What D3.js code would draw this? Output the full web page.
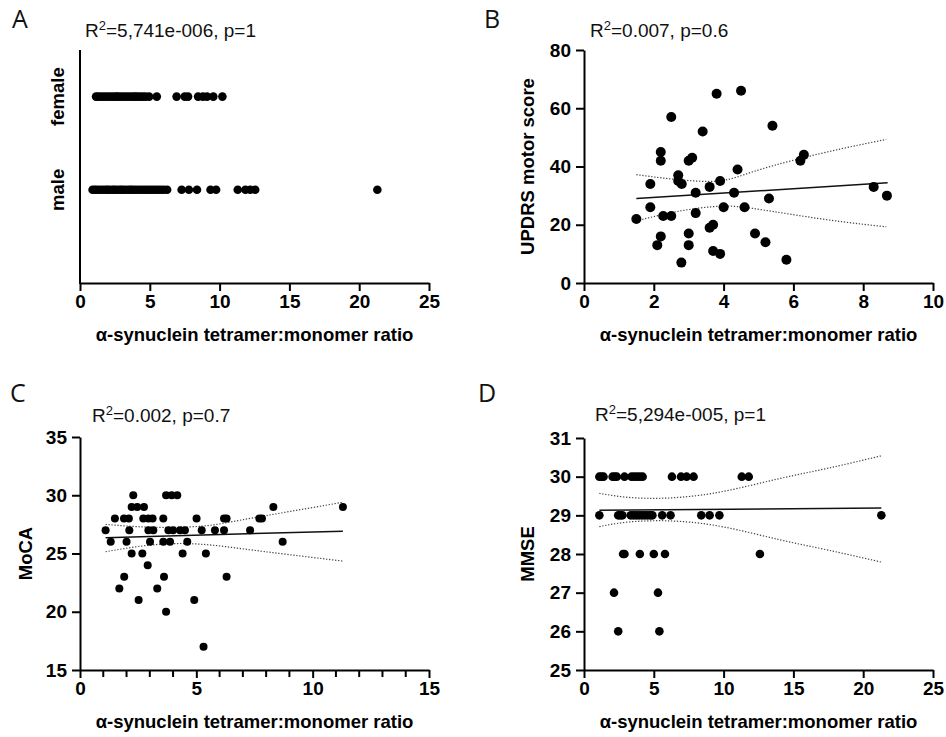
<!DOCTYPE html>
<html>
<head>
<meta charset="utf-8">
<script src="https://cdn.jsdelivr.net/npm/d3@7"></script>
<style>
  body { margin: 0; background: #fff; }
</style>
</head>
<body>
<svg id="chart" width="946" height="737" font-family="Liberation Sans, Arial, sans-serif"></svg>
<script>
// Panel A: sex vs ratio
const femaleRatio = [1.15, 1.3, 1.5, 1.7, 1.9, 2.1, 2.3, 2.5, 2.65, 2.8, 3.0, 3.2, 3.4, 3.6, 3.8, 3.95, 4.1, 4.3, 4.5, 4.7, 4.95, 5.5,
    6.92, 7.5, 7.74, 8.46, 8.8, 9.1, 9.55, 10.2];
const maleRatio = [0.9, 1.05, 1.2, 1.4, 1.6, 1.8, 1.95, 2.1, 2.3, 2.45, 2.6, 2.8, 2.95, 3.1, 3.3, 3.5, 3.65, 3.8, 4.0, 4.2,
    4.4, 4.6, 4.8, 5.0, 5.2, 5.4, 5.6, 5.8, 6.0, 6.24, 7.28, 7.8, 8.38, 9.35, 9.75, 11.3, 11.85, 12.2, 12.55, 21.3];
const sexCategories = ['male', 'female'];

// Panel B: UPDRS motor score
const updrsRatio = [1.5, 1.9, 1.9, 2.2, 2.2, 2.2, 2.1, 2.27, 2.5, 2.5, 2.7, 2.7, 2.8, 2.79, 3.0, 3.0, 3.0, 3.1, 3.2, 3.2, 3.4,
    3.6, 3.6, 3.7, 3.7, 3.8, 3.9, 3.9, 4.0, 4.3, 4.4, 4.5, 4.6, 4.9, 5.2, 5.3, 5.4, 5.8, 6.2, 6.3, 8.3, 8.68];
const updrsScore = [22, 34, 26, 45, 42, 16, 13, 23, 23, 57, 37, 35, 34, 7, 17, 13, 42, 43, 31, 24, 52,
    33, 19, 20, 11, 65, 35, 10, 26, 31, 39, 66, 26, 17, 14, 29, 54, 8, 42, 44, 33, 30];
const updrsFitX = [1.5, 8.7];
const updrsFitY = [29.0, 34.4];
const updrsCiX = [1.5, 2.36, 3.22, 4.03, 4.84, 6.08, 7.42, 8.66];
const updrsCiUpper = [37.2, 35.9, 35.0, 35.3, 38.2, 42.4, 46.2, 49.3];
const updrsCiLower = [21.3, 23.8, 25.6, 26.4, 25.6, 23.3, 21.0, 19.3];

// Panel C: MoCA
const mocaRatio = [2.29, 3.70, 3.94, 4.18,
    2.22, 2.46, 2.75, 8.31, 11.3,
    1.50, 1.89, 2.10, 2.72, 2.94, 3.12, 3.58, 5.01, 6.19, 6.30, 7.71, 7.82,
    1.10, 2.12, 2.94, 3.15, 3.80, 4.00, 4.30, 4.51, 5.23, 5.80, 6.19, 7.31,
    1.32, 2.00, 3.01, 3.58, 3.87, 4.61, 8.71,
    2.22, 2.68, 4.41, 5.41,
    2.91,
    1.90, 3.61, 6.30,
    1.69, 3.32,
    2.52, 4.91,
    3.70,
    5.31];
const mocaScore = [30, 30, 30, 30,
    29, 29, 29, 29, 29,
    28, 28, 28, 28, 28, 28, 28, 28, 28, 28, 28, 28,
    27, 27, 27, 27, 27, 27, 27, 27, 27, 27, 27, 27,
    26, 26, 26, 26, 26, 26, 26,
    25, 25, 25, 25,
    24,
    23, 23, 23,
    22, 22,
    21, 21,
    20,
    17];
const mocaFitX = [1.1, 11.3];
const mocaFitY = [26.35, 26.92];
const mocaCiX = [1.1, 2.5, 4, 5.5, 7, 9, 11.3];
const mocaCiUpper = [27.5, 27.3, 27.25, 27.4, 27.9, 28.6, 29.4];
const mocaCiLower = [25.15, 25.6, 25.85, 25.75, 25.4, 24.9, 24.35];

// Panel D: MMSE
const mmseRatio = [1.1, 1.25, 1.4, 2.05, 2.2, 2.35, 2.9, 3.4, 3.6, 3.8, 4.0, 4.2, 6.3, 6.95, 7.35, 7.85, 11.3, 11.8,
    1.1, 2.45, 2.6, 2.75, 3.35, 3.55, 3.75, 3.95, 4.15, 4.35, 4.55, 4.75, 4.9, 5.6, 6.2, 8.4, 9.0, 9.7, 21.3,
    2.8, 2.9, 4.0, 5.0, 5.8, 12.6,
    2.15, 5.3,
    2.45, 5.4];
const mmseScore = [30, 30, 30, 30, 30, 30, 30, 30, 30, 30, 30, 30, 30, 30, 30, 30, 30, 30,
    29, 29, 29, 29, 29, 29, 29, 29, 29, 29, 29, 29, 29, 29, 29, 29, 29, 29, 29,
    28, 28, 28, 28, 28, 28,
    27, 27,
    26, 26];
const mmseFitX = [1.1, 21.3];
const mmseFitY = [29.13, 29.19];
const mmseCiX = [1.1, 3, 5, 7, 10, 14, 17.5, 21.3];
const mmseCiUpper = [29.57, 29.47, 29.44, 29.47, 29.62, 29.95, 30.22, 30.54];
const mmseCiLower = [28.71, 28.82, 28.86, 28.84, 28.70, 28.37, 28.10, 27.79];

const xLabel = 'α-synuclein tetramer:monomer ratio';
const FONT = '"Liberation Sans", Arial, sans-serif';

const svg = d3.select('#chart');

function styleAxis(g) {
    g.attr('font-family', null).attr('font-size', null);
    g.select('.domain').attr('stroke', '#000').attr('stroke-width', 2);
    g.selectAll('.tick line').attr('stroke', '#000').attr('stroke-width', 2);
    g.selectAll('.tick text')
        .attr('font-family', FONT)
        .attr('font-weight', 'bold')
        .attr('font-size', 19)
        .attr('fill', '#000');
}

function addTitle(x, y, r2text) {
    const t = svg.append('text')
        .attr('x', x)
        .attr('y', y)
        .attr('font-family', FONT)
        .attr('font-size', 19)
        .attr('fill', '#111');
    t.append('tspan').text('R');
    t.append('tspan').attr('dy', -7).attr('font-size', 13).text('2');
    t.append('tspan').attr('dy', 7).text(r2text);
}

function addLetter(x, y, letter) {
    svg.append('text')
        .attr('x', x)
        .attr('y', y)
        .attr('font-family', '"Open Sans", sans-serif')
        .attr('font-size', 25)
        .attr('fill', '#111')
        .text(letter);
}

function drawPanel(p) {
    const xScale = d3.scaleLinear().domain(p.xDomain).range([p.left, p.right]);
    const yScale = d3.scaleLinear().domain(p.yDomain).range([p.bottom, p.top]);

    // x axis
    const xAxis = d3.axisBottom(xScale)
        .tickValues(d3.range(p.xDomain[0], p.xDomain[1] + 0.001, p.xStep))
        .tickFormat(d3.format('d'))
        .tickSize(8).tickSizeOuter(0).tickPadding(4);
    const gx = svg.append('g')
        .attr('transform', `translate(0, ${p.bottom})`)
        .call(xAxis)
        .call(styleAxis);

    if (p.xMinor) {
        // minor ticks every unit
        gx.selectAll('.minor')
            .data(d3.range(p.xDomain[0], p.xDomain[1] + 0.001, p.xMinor).filter(v => v % p.xStep !== 0))
            .join('line')
            .attr('class', 'minor')
            .attr('x1', d => xScale(d)).attr('x2', d => xScale(d))
            .attr('y1', 0).attr('y2', 7)
            .attr('stroke', '#000').attr('stroke-width', 2);
    }

    // y axis
    if (p.yCategories) {
        svg.append('line')
            .attr('x1', p.left).attr('x2', p.left)
            .attr('y1', p.top).attr('y2', p.bottom + 1)
            .attr('stroke', '#000').attr('stroke-width', 2);
        svg.selectAll(null)
            .data(p.yCategories)
            .join('text')
            .attr('transform', (d, i) => `translate(${p.left - 16}, ${yScale(i + 1)}) rotate(-90)`)
            .attr('text-anchor', 'middle')
            .attr('font-family', FONT)
            .attr('font-weight', 'bold')
            .attr('font-size', 18.5)
            .text(d => d);
    } else {
        const yAxis = d3.axisLeft(yScale)
            .tickValues(d3.range(p.yDomain[0], p.yDomain[1] + 0.001, p.yStep))
            .tickFormat(d3.format('d'))
            .tickSize(8).tickSizeOuter(0).tickPadding(5);
        svg.append('g')
            .attr('transform', `translate(${p.left}, 0)`)
            .call(yAxis)
            .call(styleAxis);

        svg.append('text')
            .attr('transform', `translate(${p.yLabelX}, ${(p.top + p.bottom) / 2}) rotate(-90)`)
            .attr('text-anchor', 'middle')
            .attr('font-family', FONT)
            .attr('font-weight', 'bold')
            .attr('font-size', 18.5)
            .text(p.yLabel);
    }

    svg.append('text')
        .attr('x', (p.left + p.right) / 2)
        .attr('y', p.bottom + 58)
        .attr('text-anchor', 'middle')
        .attr('font-family', FONT)
        .attr('font-weight', 'bold')
        .attr('font-size', 18.5)
        .text(xLabel);

    // confidence band (dotted) and fit line
    if (p.ciX) {
        const curve = d3.line()
            .x(d => xScale(d[0]))
            .y(d => yScale(d[1]))
            .curve(d3.curveNatural);
        [p.ciUpper, p.ciLower].forEach(arr => {
            svg.append('path')
                .datum(p.ciX.map((x, i) => [x, arr[i]]))
                .attr('d', curve)
                .attr('fill', 'none')
                .attr('stroke', '#444')
                .attr('stroke-width', 1.2)
                .attr('stroke-dasharray', '1.3,1.7');
        });
        svg.append('path')
            .datum(p.fitX.map((x, i) => [x, p.fitY[i]]))
            .attr('d', d3.line().x(d => xScale(d[0])).y(d => yScale(d[1])))
            .attr('fill', 'none')
            .attr('stroke', '#111')
            .attr('stroke-width', 1.5);
    }

    svg.append('g')
        .selectAll('circle')
        .data(p.xs.map((x, i) => [x, p.ys[i]]))
        .join('circle')
        .attr('cx', d => xScale(d[0]))
        .attr('cy', d => yScale(d[1]))
        .attr('r', p.r)
        .attr('fill', '#000');
}

// A
drawPanel({
    left: 80, right: 429, top: 50, bottom: 283,
    xDomain: [0, 25], xStep: 5,
    yDomain: [0, 2.5], yCategories: sexCategories,
    xs: maleRatio.concat(femaleRatio),
    ys: maleRatio.map(() => 1).concat(femaleRatio.map(() => 2)),
    r: 4.3
});
addTitle(85, 37, '=5,741e-006, p=1');
addLetter(12, 28, 'A');

// B
drawPanel({
    left: 584, right: 933, top: 50, bottom: 283,
    xDomain: [0, 10], xStep: 2,
    yDomain: [0, 80], yStep: 20,
    yLabel: 'UPDRS motor score', yLabelX: 534,
    xs: updrsRatio, ys: updrsScore, r: 5,
    fitX: updrsFitX, fitY: updrsFitY,
    ciX: updrsCiX, ciUpper: updrsCiUpper, ciLower: updrsCiLower
});
addTitle(590, 37, '=0.007, p=0.6');
addLetter(484, 28, 'B');

// C
drawPanel({
    left: 80, right: 429, top: 437, bottom: 670,
    xDomain: [0, 15], xStep: 5, xMinor: 1,
    yDomain: [15, 35], yStep: 5,
    yLabel: 'MoCA', yLabelX: 32,
    xs: mocaRatio, ys: mocaScore, r: 4,
    fitX: mocaFitX, fitY: mocaFitY,
    ciX: mocaCiX, ciUpper: mocaCiUpper, ciLower: mocaCiLower
});
addTitle(92, 422, '=0.002, p=0.7');
addLetter(10, 402, 'C');

// D
drawPanel({
    left: 584, right: 933, top: 438, bottom: 670,
    xDomain: [0, 25], xStep: 5,
    yDomain: [25, 31], yStep: 1,
    yLabel: 'MMSE', yLabelX: 534,
    xs: mmseRatio, ys: mmseScore, r: 4.3,
    fitX: mmseFitX, fitY: mmseFitY,
    ciX: mmseCiX, ciUpper: mmseCiUpper, ciLower: mmseCiLower
});
addTitle(595, 421, '=5,294e-005, p=1');
addLetter(478, 402, 'D');
</script>
</body>
</html>
